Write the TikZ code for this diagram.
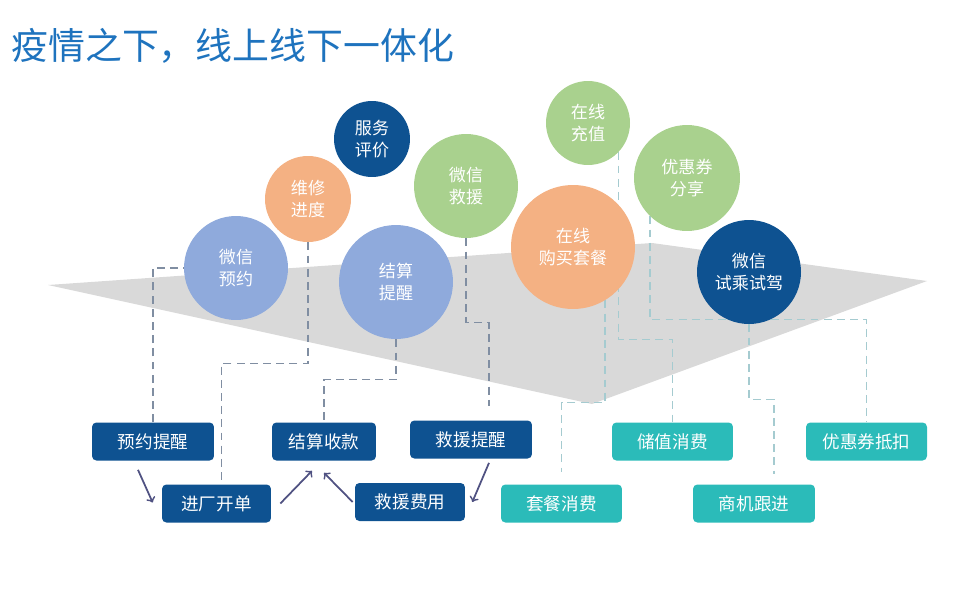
\documentclass[tikz,border=0pt]{standalone}
\usepackage{fontspec}
\setmainfont{Noto Sans CJK SC}
\usetikzlibrary{calc}
\usetikzlibrary{arrows}

\definecolor{titleblue}{RGB}{30,115,190}
\definecolor{blueL}{RGB}{143,170,220}
\definecolor{blueD}{RGB}{14,82,145}
\definecolor{orangeL}{RGB}{244,177,131}
\definecolor{greenL}{RGB}{169,209,142}
\definecolor{tealB}{RGB}{43,187,185}
\definecolor{plane}{RGB}{217,217,217}
\definecolor{dashL}{RGB}{128,142,162}
\definecolor{dashR}{RGB}{165,203,208}
\definecolor{flowc}{RGB}{80,82,130}

\pgfdeclarelayer{bg}
\pgfdeclarelayer{links}
\pgfsetlayers{bg,links,main}

\tikzset{
  bubble/.style={circle, inner sep=0pt, text=white, align=center,
    font=\fontsize{9.7}{12.5}\selectfont},
  darkbox/.style={rectangle, rounded corners=2.5pt, fill=blueD, text=white,
    minimum height=0.76cm, inner sep=0pt, font=\fontsize{10}{12}\selectfont},
  tealbox/.style={darkbox, fill=tealB},
  linkL/.style={dashL, line width=0.8pt, dash pattern=on 4.5pt off 3pt},
  linkR/.style={linkL, dashR},
  flow/.style={flowc, line width=1pt, ->, >=to},
}

\begin{document}
\begin{tikzpicture}[x=0.02cm, y=-0.02cm]
\useasboundingbox (0,0) rectangle (953,608);

\node[anchor=west, inner sep=0pt, text=titleblue, font=\fontsize{21}{21}\selectfont] (title) at (11,46) {疫情之下，线上线下一体化};

% plane
\begin{pgfonlayer}{bg}
\fill[plane] (48,285) -- (652,243) -- (927,281) -- (592,404) -- cycle;
\end{pgfonlayer}

% bubbles
\node[bubble, fill=blueL,   minimum size=2.08cm] (wxyy) at (236,268) {微信\\预约};
\node[bubble, fill=orangeL, minimum size=1.72cm] (wxjd) at (308,199) {维修\\进度};
\node[bubble, fill=blueD,   minimum size=1.52cm] (fwpj) at (372,139) {服务\\评价};
\node[bubble, fill=blueL,   minimum size=2.28cm] (jstx) at (396,282) {结算\\提醒};
\node[bubble, fill=greenL,  minimum size=2.08cm] (wxjy) at (466,186) {微信\\救援};
\node[bubble, fill=greenL,  minimum size=1.68cm] (zxcz) at (588,123) {在线\\充值};
\node[bubble, fill=orangeL, minimum size=2.48cm] (zxgm) at (573,247) {在线\\购买套餐};
\node[bubble, fill=greenL,  minimum size=2.12cm] (yhfx) at (687,178) {优惠券\\分享};
\node[bubble, fill=blueD,   minimum size=2.08cm] (wxsj) at (749,272) {微信\\试乘试驾};

% boxes
\foreach \nm/\px/\py/\bw/\txt in {yytx/153/441.5/2.44/预约提醒, jckd/216.5/503.5/2.18/进厂开单,
  jssk/324/441.5/2.08/结算收款, jytx/471/439.5/2.44/救援提醒, jyfy/410/502/2.2/救援费用} {
 \node[darkbox, minimum width=\bw cm] (\nm) at (\px,\py) {\txt};
}
\foreach \nm/\px/\py/\bw/\txt in {tcxf/561.5/503.5/2.42/套餐消费, cxxf/672.5/441.5/2.42/储值消费,
  sjgj/754/503.5/2.44/商机跟进, yhdk/866.5/441.5/2.42/优惠券抵扣} {
 \node[tealbox, minimum width=\bw cm] (\nm) at (\px,\py) {\txt};
}

% dashed links
\begin{pgfonlayer}{links}
\draw[linkL] (yytx.north) |- (wxyy.west);
\draw[linkL] (wxjd.south) -- ++(0,121) -| ($(jckd.north)+(5,0)$);
\draw[linkL] (jstx.south) -- ++(0,40) -| (jssk.north);
\draw[linkL] (wxjy.south) -- ++(0,84) -| ($(jytx.north)+(18,-14)$);
\draw[linkR] (zxgm.-59) -- ++(0,102) -| ($(tcxf.north)+(0,-12)$);
\draw[linkR] (zxcz.-44) -- ++(0,187) -| (cxxf.north);
\draw[linkR] (yhfx.-134) -- ++(0,103) -| (yhdk.north);
\draw[linkR] (wxsj.south) -- ++(0,75) -| ($(sjgj.north)+(20,-10)$);
\end{pgfonlayer}

% flow arrows
\draw[flow] ($(yytx.south)+(-15,9)$) -- ($(jckd.west)+(-9,-1)$);
\draw[flow] ($(jckd.east)+(9,0)$) -- ($(jssk.south)+(-12,10)$);
\draw[flow] ($(jyfy.west)+(-2,0)$) -- ($(jssk.south)+(0,12)$);
\draw[flow] ($(jytx.south)+(18,4)$) -- ($(jyfy.east)+(7,0)$);
\end{tikzpicture}
\end{document}
